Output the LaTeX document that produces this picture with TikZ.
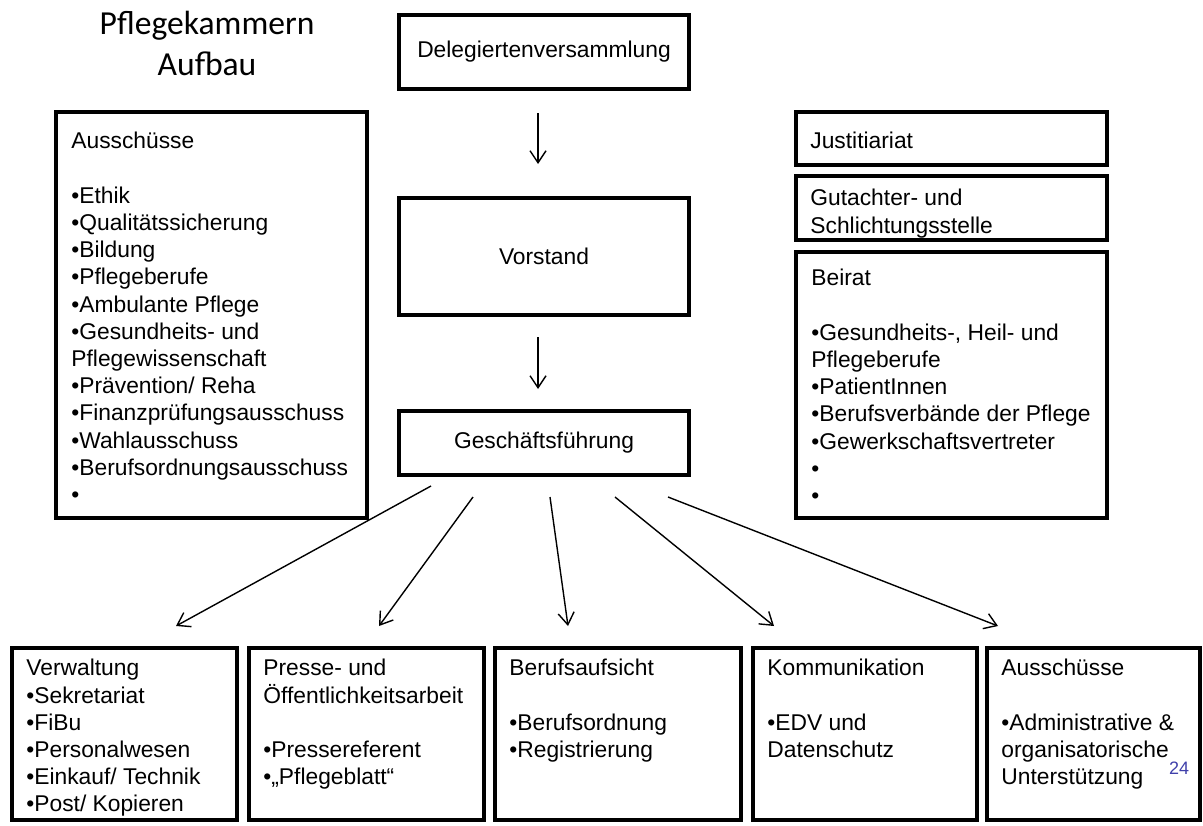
\documentclass[tikz,border=0pt]{standalone}
\usepackage{fontspec}
\setmainfont{Liberation Sans}
\newfontfamily\titelschrift{Carlito}
\usetikzlibrary{arrows.meta}
\definecolor{seitenblau}{RGB}{64,64,170}

\def\schrift{\fontsize{11.4}{13.6}\selectfont}
\def\leer{13.6pt}

\tikzset{
  kasten/.style={draw, line width=2.4pt, outer sep=0pt, inner sep=0pt, anchor=north west, font=\schrift},
  liste/.style={anchor=north west, inner sep=0pt, align=left, font=\schrift},
  titel/.style={anchor=north, inner sep=0pt, align=center, font=\titelschrift\fontsize{16.8}{20.5}\selectfont},
  pfeil/.style={-{Straight Barb[length=6pt,width=8pt]}, line width=0.7pt}
}

\begin{document}
\begin{tikzpicture}[x=0.5pt,y=-0.5pt]
\useasboundingbox (0,0) rectangle (1203,825);

%Titel
    \node[titel] (titel) at (207,11) {Pflegekammern\\Aufbau};

%Mitte
    \node[kasten, minimum width=145pt, minimum height=37pt] (deleg) at (399,15) {Delegiertenversammlung};
    \node[kasten, minimum width=145pt, minimum height=58.5pt] (vorst) at (399,198) {Vorstand};
    \node[kasten, minimum width=145pt, minimum height=32pt] (gf) at (399,411) {Geschäftsführung};

    \coordinate (p1a) at (538,113);
    \coordinate (p1b) at (538,164);
    \coordinate (p2a) at (538,337);
    \coordinate (p2b) at (538,389);
    \draw[pfeil] (p1a) -- (p1b);
    \draw[pfeil] (p2a) -- (p2b);

%Ausschüsse links
    \node[kasten, minimum width=155.5pt, minimum height=203pt] (ausl) at (56,112) {};
    \node[liste] (ausltext) at (71,132) {Ausschüsse\\[\leer]
        •Ethik\\•Qualitätssicherung\\•Bildung\\•Pflegeberufe\\•Ambulante Pflege\\
        •Gesundheits- und\\Pflegewissenschaft\\•Prävention/ Reha\\
        •Finanzprüfungsausschuss\\•Wahlausschuss\\•Berufsordnungsausschuss\\•};

%rechts
    \node[kasten, minimum width=155.5pt, minimum height=26.5pt] (just) at (796,112) {};
    \node[liste] (justtext) at (810,132) {Justitiariat};
    \node[kasten, minimum width=155.5pt, minimum height=32pt] (gut) at (796,176) {};
    \node[liste] (guttext) at (810,189) {Gutachter- und\\Schlichtungsstelle};
    \node[kasten, minimum width=155.5pt, minimum height=133pt] (beirat) at (796,252) {};
    \node[liste] (beirattext) at (811,269) {Beirat\\[\leer]
        •Gesundheits-, Heil- und\\Pflegeberufe\\•PatientInnen\\
        •Berufsverbände der Pflege\\•Gewerkschaftsvertreter\\•\\•};

%untere Reihe
    \node[kasten, minimum width=112.5pt, minimum height=86pt] (verw) at (12,648) {};
    \node[liste] (verwtext) at (26,659) {Verwaltung\\•Sekretariat\\•FiBu\\•Personalwesen\\•Einkauf/ Technik\\•Post/ Kopieren};
    \node[kasten, minimum width=117.5pt, minimum height=86pt] (presse) at (249,648) {};
    \node[liste] (pressetext) at (263,659) {Presse- und\\Öffentlichkeitsarbeit\\[\leer]•Pressereferent\\•„Pflegeblatt“};
    \node[kasten, minimum width=123pt, minimum height=86pt] (aufsicht) at (495,648) {};
    \node[liste] (aufsichttext) at (509,659) {Berufsaufsicht\\[\leer]•Berufsordnung\\•Registrierung};
    \node[kasten, minimum width=112pt, minimum height=86pt] (komm) at (753,648) {};
    \node[liste] (kommtext) at (767,659) {Kommunikation\\[\leer]•EDV und\\Datenschutz};
    \node[kasten, minimum width=106.5pt, minimum height=86pt] (ausr) at (987,648) {};
    \node[liste] (ausrtext) at (1001,659) {Ausschüsse\\[\leer]•Administrative \&\\organisatorische\\Unterstützung};

    \node[inner sep=0pt, text=seitenblau, font=\fontsize{9}{10}\selectfont] (seite) at (1179,768) {24};

%Pfeile nach unten
    \coordinate (a1) at (431,486);  \coordinate (b1) at (176,626);
    \coordinate (a2) at (473,497);  \coordinate (b2) at (379,626);
    \coordinate (a3) at (550,497);  \coordinate (b3) at (568,626);
    \coordinate (a4) at (615,497);  \coordinate (b4) at (774,626);
    \coordinate (a5) at (668,497);  \coordinate (b5) at (998,626);

    \foreach \i in {1,...,5}
        \draw[pfeil] (a\i) -- (b\i);

\end{tikzpicture}
\end{document}
